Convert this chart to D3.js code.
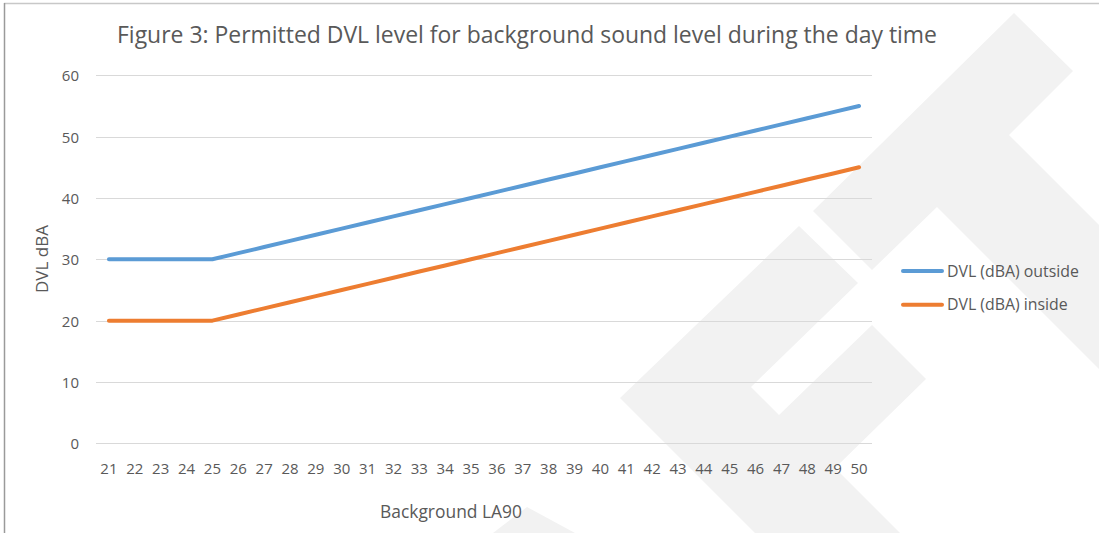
<!DOCTYPE html>
<html>
<head>
<meta charset="utf-8">
<script src="https://cdn.jsdelivr.net/npm/d3@7"></script>
<style>
  html, body { margin: 0; padding: 0; background: #ffffff; }
  svg { display: block; font-family: "Open Sans", "Noto Sans", sans-serif; }
</style>
</head>
<body>
<svg id="chart" width="1099" height="533"></svg>
<script>
// ---- data ----
const categories = [21,22,23,24,25,26,27,28,29,30,31,32,33,34,35,36,37,38,39,40,41,42,43,44,45,46,47,48,49,50];
const outsideValues = [30,30,30,30,30,31,32,33,34,35,36,37,38,39,40,41,42,43,44,45,46,47,48,49,50,51,52,53,54,55];
const insideValues  = [20,20,20,20,20,21,22,23,24,25,26,27,28,29,30,31,32,33,34,35,36,37,38,39,40,41,42,43,44,45];
const yTicks = [0,10,20,30,40,50,60];
const seriesNames = ["DVL (dBA) outside", "DVL (dBA) inside"];
const titleText = "Figure 3: Permitted DVL level for background sound level during the day time";
const xTitle = "Background LA90";
const yTitle = "DVL dBA";

// ---- setup ----
const W = 1099, H = 533;
const svg = d3.select("#chart");
const textColor = "#595959";
const colors = ["#5b9bd5", "#ed7d31"];

// watermark (decorative background logo)
const wm = svg.append("g").attr("fill", "#f2f2f2");
const wmShapes = [
  [[1014,13],[1073,71],[1009,135],[1099,225],[1099,369],[937,207],[872,270],[813,211]],
  [[799,226],[858,283],[751,387],[779,415],[872,325],[926,379],[835,468],[900,533],[755,533],[620,398]],
  [[493,533],[527,507],[575,533]]
];
wmShapes.forEach(p => wm.append("path").attr("d", d3.line()(p) + "Z"));

// frame
svg.append("line").attr("x1", 4).attr("x2", W).attr("y1", 3.5).attr("y2", 3.5)
  .attr("stroke", "#c8c8c8").attr("stroke-width", 1.5);
svg.append("line").attr("x1", 4.5).attr("x2", 4.5).attr("y1", 3).attr("y2", H)
  .attr("stroke", "#9a9a9a").attr("stroke-width", 1.5);

// scales
const x = d3.scaleBand().domain(categories).range([96, 872]).padding(0);
const xc = d => x(d) + x.bandwidth() / 2;
const y = d3.scaleLinear().domain([0, 60]).range([443.3, 75.3]);

function fit(sel, target) {
  const base = parseFloat(sel.attr("font-size"));
  const w = sel.node().getComputedTextLength();
  if (w > 0) sel.attr("font-size", (base * target / w).toFixed(2));
}

// y axis labels
const yAxis = d3.axisLeft(y).tickValues(yTicks).tickSize(0).tickPadding(0);
const gy = svg.append("g").attr("transform", "translate(79,0)").call(yAxis);
gy.select(".domain").remove();
gy.selectAll("text").attr("fill", textColor).attr("font-size", 15)
  .attr("font-family", '"Open Sans", sans-serif').attr("dy", "0.36em");

// gridlines
svg.append("g").selectAll("line").data(yTicks).join("line")
  .attr("x1", 96).attr("x2", 872)
  .attr("y1", d => Math.round(y(d)) + 0.5).attr("y2", d => Math.round(y(d)) + 0.5)
  .attr("stroke", "#d9d9d9").attr("stroke-width", 1.2);

// x axis labels
const xAxis = d3.axisBottom(x).tickSize(0).tickPadding(0);
const gx = svg.append("g").attr("transform", "translate(0,474)").call(xAxis);
gx.select(".domain").remove();
gx.selectAll("text").attr("fill", textColor).attr("font-size", 15)
  .attr("font-family", '"Open Sans", sans-serif').attr("dy", "0");

// lines
const line = d3.line().x((d, i) => xc(categories[i])).y(d => y(d));
[outsideValues, insideValues].forEach((vals, i) => {
  svg.append("path").datum(vals).attr("d", line)
    .attr("fill", "none").attr("stroke", colors[i]).attr("stroke-width", 4)
    .attr("stroke-linecap", "round").attr("stroke-linejoin", "round");
});

// title
const t = svg.append("text").attr("x", 527).attr("y", 43).attr("text-anchor", "middle")
  .attr("fill", textColor).attr("font-size", 20).text(titleText);
fit(t, 820);

// axis titles
const xt = svg.append("text").attr("x", 451).attr("y", 518).attr("text-anchor", "middle")
  .attr("fill", textColor).attr("font-size", 15).text(xTitle);
fit(xt, 142);
const yt = svg.append("text").attr("transform", "translate(48,259) rotate(-90)")
  .attr("text-anchor", "middle").attr("fill", textColor).attr("font-size", 15).text(yTitle);
fit(yt, 68);

// legend
const legY = [271, 304.7];
let legFont = 14;
seriesNames.forEach((name, i) => {
  svg.append("line").attr("x1", 903).attr("x2", 942).attr("y1", legY[i]).attr("y2", legY[i])
    .attr("stroke", colors[i]).attr("stroke-width", 4).attr("stroke-linecap", "round");
  const lt = svg.append("text").attr("x", 947).attr("y", legY[i]).attr("dy", "0.36em")
    .attr("fill", textColor).attr("font-size", legFont).text(name);
  if (i === 0) { fit(lt, 132); legFont = lt.attr("font-size"); }
});
</script>
</body>
</html>
